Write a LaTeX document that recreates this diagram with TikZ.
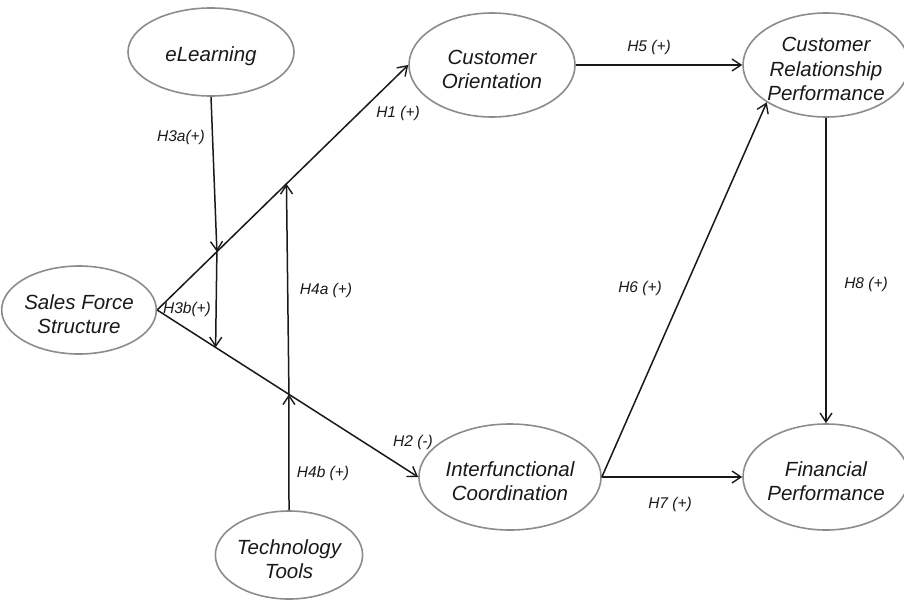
\documentclass[tikz,border=0pt]{standalone}
\usepackage{fontspec}
\setmainfont{Liberation Sans}
\usetikzlibrary{shapes.geometric,arrows.meta,calc}
\newcommand{\dnstrut}{\rule{0pt}{23pt}}
\begin{document}
\begin{tikzpicture}[x=1pt,y=-1pt,
  construct/.style={ellipse,draw=black!45,line width=1.6pt,inner sep=0pt,align=center,
    font=\fontsize{20.5}{24.5}\selectfont\itshape,text=black!90},
  hyp/.style={font=\fontsize{15.5}{18}\selectfont\itshape,text=black!90,inner sep=1pt},
  conn/.style={draw=black!90,line width=1.5pt,-{Straight Barb[length=9pt,width=12pt,line width=1.4pt]}},
  plain/.style={draw=black!90,line width=1.5pt}]
\useasboundingbox (0,0) rectangle (904,602);
\fill[white] (0,0) rectangle (904,602);
% constructs
\node[construct,minimum width=166pt,minimum height=88pt] (el) at (211,52) {\dnstrut eLearning};
\node[construct,minimum width=166pt,minimum height=104pt] (co) at (492,65) {\dnstrut Customer\\Orientation};
\node[construct,minimum width=154pt,minimum height=104pt] (crp) at (826,65) {\dnstrut Customer\\Relationship\\Performance};
\node[construct,minimum width=142pt,minimum height=88pt] (sfs) at (79,310) {\dnstrut Sales Force\\Structure};
\node[construct,minimum width=166pt,minimum height=106pt] (ic) at (510,477) {\dnstrut Interfunctional\\Coordination};
\node[construct,minimum width=154pt,minimum height=106pt] (fp) at (826,477) {\dnstrut Financial\\Performance};
\node[construct,minimum width=142pt,minimum height=88pt] (tt) at (289,555) {\dnstrut Technology\\Tools};
% moderation points
\coordinate (m1) at ($(sfs.east)!0.238!(co.west)$);
\coordinate (m2) at ($(sfs.east)!0.224!(ic.west)$);
\coordinate (q1) at ($(sfs.east)!0.515!(co.west)$);
\coordinate (q2) at ($(sfs.east)!0.505!(ic.west)$);
% main paths
\draw[conn] (sfs.east) -- (co.west);
\draw[conn] (sfs.east) -- (ic.west);
\draw[conn] (co.east) -- (crp.west);
\draw[conn] (ic.east) -- (crp.south west);
\draw[conn] (ic.east) -- (fp.west);
\draw[conn] (crp.south) -- (fp.north);
% moderators
\draw[conn] (el.south) -- (m1);
\draw[conn] (m1) -- (m2);
\draw[conn] (tt.north) -- (q2);
\draw[conn] (q2) -- (q1);
% labels
\node[hyp] (l3a) at (181,137) {H3a(+)};
\node[hyp] (l1) at (398,113) {H1 (+)};
\node[hyp] (l3b) at (187,309) {H3b(+)};
\node[hyp] (l4a) at (326,290) {H4a (+)};
\node[hyp] (l2) at (413,442) {H2 (-)};
\node[hyp] (l4b) at (323,473) {H4b (+)};
\node[hyp] (l5) at (649,47) {H5 (+)};
\node[hyp] (l6) at (640,288) {H6 (+)};
\node[hyp] (l7) at (670,504) {H7 (+)};
\node[hyp] (l8) at (866,284) {H8 (+)};
\end{tikzpicture}
\end{document}
